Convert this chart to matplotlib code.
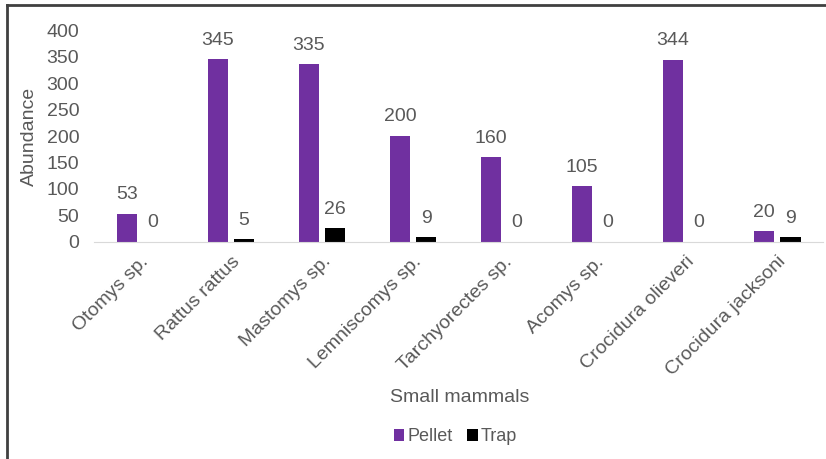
import matplotlib.pyplot as plt
import numpy as np
from matplotlib.lines import Line2D

plt.rcParams['font.family'] = ['Liberation Sans', 'DejaVu Sans']

species = ['Otomys sp.', 'Rattus rattus', 'Mastomys sp.', 'Lemniscomys sp.',
           'Tarchyorectes sp.', 'Acomys sp.', 'Crocidura olieveri', 'Crocidura jacksoni']
pellet = [53, 345, 335, 200, 160, 105, 344, 20]
trap = [0, 5, 26, 9, 0, 0, 0, 9]

purple = '#7030A0'
grey = '#595959'

fig = plt.figure(figsize=(8.26, 4.59), dpi=100)
ax = fig.add_axes([0.1144, 0.4728, 0.8814, 0.4618])

x = np.arange(len(species))
w = 0.23
b1 = ax.bar(x - 0.143, pellet, w, color=purple, label='Pellet')
b2 = ax.bar(x + 0.143, trap, w, color='black', label='Trap')

for bars in (b1, b2):
    for r in bars:
        ax.text(r.get_x() + r.get_width() / 2, r.get_height() + 20,
                str(int(r.get_height())), ha='center', va='bottom',
                fontsize=14, color=grey)

ax.set_xlim(-0.5, len(species) - 0.5)
ax.set_ylim(0, 400)
ax.set_yticks(range(0, 401, 50))
ax.set_xticks(x)
ax.set_xticklabels(species, rotation=45, ha='right', rotation_mode='anchor')
ax.tick_params(length=0, labelsize=14, labelcolor=grey)
ax.tick_params(axis='x', pad=8)
ax.tick_params(axis='y', pad=11)
for s in ['top', 'right', 'left']:
    ax.spines[s].set_visible(False)
ax.spines['bottom'].set_color('#D9D9D9')

ax.set_ylabel('Abundance', fontsize=14, color=grey, labelpad=6)
fig.text(0.556, 0.135, 'Small mammals', ha='center', va='center', fontsize=14, color=grey)

fig.legend(handles=[b1, b2], loc='center', bbox_to_anchor=(0.551, 0.048), ncol=2,
           frameon=False, fontsize=13, labelcolor=grey, handlelength=0.6,
           handleheight=0.6, handletextpad=0.15, columnspacing=0.8)

# border on left and top
fig.add_artist(Line2D([0.008, 0.008], [0, 0.989], color='#404040', lw=2, transform=fig.transFigure))
fig.add_artist(Line2D([0.008, 1], [0.989, 0.989], color='#404040', lw=2, transform=fig.transFigure))

fig.savefig('out.png', dpi=100)
